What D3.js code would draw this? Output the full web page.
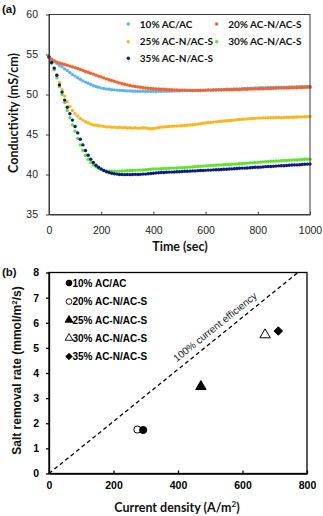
<!DOCTYPE html>
<html><head><meta charset="utf-8">
<script src="https://cdn.jsdelivr.net/npm/d3@7/dist/d3.min.js"></script>
<style>
html,body{margin:0;padding:0;background:#fff;}
svg{display:block;}
</style></head>
<body>
<svg id="chart" width="323" height="516"></svg>
<script>
// ---------- Panel (a) data ----------
const timeSec = d3.range(0, 1001, 10);
const seriesNames = ["10% AC/AC","20% AC-N/AC-S","25% AC-N/AC-S","30% AC-N/AC-S","35% AC-N/AC-S"];
const cond10 = [54.7,54.4,54.15,53.9,53.65,53.45,53.2,53.0,52.75,52.5,
52.3,52.1,51.9,51.7,51.55,51.4,51.25,51.1,51.0,50.9,
50.8,50.75,50.7,50.65,50.6,50.58,50.55,50.52,50.5,50.48,
50.45,50.45,50.42,50.42,50.4,50.4,50.4,50.38,50.4,50.38,
50.4,50.38,50.4,50.4,50.42,50.4,50.42,50.42,50.45,50.45,
50.45,50.48,50.48,50.5,50.5,50.5,50.52,50.52,50.55,50.55,
50.55,50.58,50.58,50.6,50.6,50.6,50.62,50.62,50.65,50.65,
50.65,50.68,50.7,50.7,50.72,50.75,50.78,50.8,50.8,50.82,
50.82,50.85,50.85,50.85,50.88,50.88,50.88,50.9,50.9,50.9,
50.92,50.92,50.95,50.95,50.95,50.98,50.98,51.0,51.0,51.0,51.02];
const cond20 = [54.7,54.4,54.2,54.05,53.95,53.85,53.75,53.65,53.55,53.45,
53.35,53.25,53.12,53.0,52.88,52.78,52.65,52.55,52.42,52.3,
52.2,52.08,51.95,51.85,51.75,51.65,51.55,51.45,51.35,51.28,
51.2,51.12,51.05,51.0,50.95,50.9,50.85,50.82,50.78,50.75,
50.72,50.7,50.68,50.65,50.65,50.62,50.6,50.6,50.58,50.58,
50.55,50.55,50.55,50.52,50.52,50.5,50.52,50.5,50.5,50.52,
50.52,50.55,50.52,50.55,50.55,50.58,50.55,50.58,50.6,50.6,
50.6,50.62,50.62,50.62,50.65,50.65,50.65,50.68,50.68,50.7,
50.7,50.72,50.72,50.75,50.75,50.75,50.78,50.78,50.8,50.8,
50.8,50.82,50.82,50.85,50.85,50.85,50.88,50.88,50.9,50.9,50.9];
const cond25 = [54.7,54.0,53.2,52.4,51.5,50.6,49.8,49.1,48.5,48.0,
47.6,47.3,47.0,46.8,46.6,46.45,46.3,46.2,46.15,46.1,
46.05,46.0,45.95,45.95,45.9,45.92,45.88,45.9,45.85,45.88,
45.82,45.85,45.8,45.85,45.78,45.8,45.85,45.82,45.75,45.72,
45.75,45.8,45.88,45.92,45.95,45.98,46.0,46.02,46.05,46.05,
46.08,46.1,46.12,46.15,46.18,46.22,46.25,46.3,46.35,46.4,
46.45,46.5,46.52,46.55,46.58,46.62,46.65,46.7,46.72,46.75,
46.78,46.8,46.85,46.88,46.9,46.92,46.95,46.98,47.0,47.02,
47.05,47.05,47.08,47.08,47.1,47.1,47.1,47.12,47.12,47.1,
47.12,47.15,47.12,47.15,47.15,47.18,47.2,47.2,47.22,47.22,47.25];
const cond30 = [54.7,53.9,53.1,52.1,51.0,50.0,49.0,48.0,47.1,46.2,
45.4,44.5,43.7,43.0,42.4,41.9,41.5,41.2,40.95,40.75,
40.6,40.5,40.45,40.42,40.4,40.4,40.42,40.42,40.45,40.45,
40.48,40.5,40.5,40.52,40.55,40.55,40.58,40.6,40.62,40.65,
40.68,40.7,40.7,40.72,40.75,40.75,40.78,40.8,40.8,40.82,
40.85,40.85,40.88,40.9,40.92,40.95,40.98,41.0,41.02,41.05,
41.08,41.1,41.12,41.12,41.15,41.18,41.2,41.22,41.25,41.25,
41.28,41.3,41.32,41.35,41.38,41.4,41.42,41.45,41.48,41.5,
41.52,41.55,41.58,41.6,41.62,41.65,41.65,41.68,41.7,41.72,
41.75,41.75,41.78,41.8,41.82,41.82,41.85,41.88,41.9,41.9,41.92];
const cond35 = [54.7,54.0,53.3,52.4,51.2,50.3,49.3,48.4,47.6,46.8,
46.0,45.2,44.4,43.7,43.0,42.4,41.9,41.5,41.15,40.9,
40.7,40.5,40.35,40.25,40.15,40.1,40.05,40.0,40.0,39.98,
40.0,39.98,40.0,40.02,40.0,40.02,40.05,40.05,40.1,40.12,
40.15,40.2,40.22,40.25,40.25,40.28,40.3,40.3,40.32,40.35,
40.35,40.38,40.4,40.4,40.42,40.45,40.45,40.48,40.5,40.5,
40.52,40.55,40.55,40.58,40.6,40.6,40.62,40.65,40.65,40.68,
40.7,40.72,40.75,40.78,40.8,40.8,40.82,40.85,40.88,40.9,
40.9,40.92,40.95,40.98,41.0,41.0,41.02,41.05,41.08,41.1,
41.1,41.12,41.15,41.18,41.2,41.2,41.22,41.25,41.28,41.3,41.32];
const seriesColors = ["#5ab4ee","#fb5f2b","#fdb519","#5fe32c","#0c1a82"];
const xTicksA = [0,200,400,600,800,1000];
const yTicksA = [35,40,45,50,55,60];

// ---------- Panel (b) data ----------
const currentDensity = [292, 274, 471, 670, 711];
const saltRemoval = [1.73, 1.75, 3.46, 5.52, 5.67];
const xTicksB = [0,200,400,600,800];
const yTicksB = [0,1,2,3,4,5,6,7,8];
const efficiencyLine = [[0,0],[772,8]];
const efficiencyLabel = "100% current efficiency";

const svg = d3.select("#chart");
const calibri = "Lato, 'Open Sans', sans-serif";
const arial = "'Liberation Sans', Arial, sans-serif";

// ================= Panel (a) =================
const xa = d3.scaleLinear().domain([0,1000]).range([49,310]);
const ya = d3.scaleLinear().domain([35,60]).range([214.5,14.5]);
const ga = svg.append("g");

const allSeries = [cond10, cond20, cond25, cond30, cond35];
allSeries.forEach((vals, si) => {
  ga.append("g").selectAll("circle")
    .data(vals.map((v,i)=>[timeSec[i], v]))
    .join("circle")
    .attr("cx", d=>xa(d[0])).attr("cy", d=>ya(d[1]))
    .attr("r", 1.7).attr("fill", seriesColors[si]);
});

ga.append("rect").attr("x", xa(0)).attr("y", ya(60))
  .attr("width", xa(1000)-xa(0)).attr("height", ya(35)-ya(60))
  .attr("fill","none").attr("stroke","#3a3a3a").attr("stroke-width",1);

const axA_x = d3.axisBottom(xa).tickValues(xTicksA).tickFormat(d3.format("d"))
  .tickSizeInner(-3).tickSizeOuter(0).tickPadding(12);
const gax = ga.append("g").attr("transform",`translate(0,${ya(35)})`).call(axA_x);
gax.select(".domain").attr("stroke","#3a3a3a");
gax.selectAll("line").attr("stroke","#3a3a3a");
gax.selectAll("text").attr("font-family",arial).attr("font-size","10.5px").attr("fill","#222");

const axA_y = d3.axisLeft(ya).tickValues(yTicksA).tickFormat(d3.format("d"))
  .tickSizeInner(3).tickSizeOuter(0).tickPadding(8);
const gay = ga.append("g").attr("transform",`translate(${xa(0)},0)`).call(axA_y);
gay.select(".domain").attr("stroke","#3a3a3a");
gay.selectAll("line").attr("stroke","#3a3a3a");
gay.selectAll("text").attr("font-family",arial).attr("font-size","10.5px").attr("fill","#222");

ga.append("text").attr("x",180).attr("y",251).attr("text-anchor","middle")
  .attr("font-family",calibri).attr("font-weight","bold").attr("font-size","12.5px").attr("fill","#111")
  .text("Time (sec)");
ga.append("text").attr("transform","translate(18,113) rotate(-90)").attr("text-anchor","middle")
  .attr("font-family",calibri).attr("font-weight","bold").attr("font-size","12.5px").attr("fill","#111")
  .text("Conductivity (mS/cm)");
ga.append("text").attr("x",2).attr("y",13).attr("font-family",arial).attr("font-weight","bold")
  .attr("font-size","11.5px").attr("fill","#111").text("(a)");

const legPosA = [[128.3,24],[216.7,24],[128.3,41.7],[216.7,41.7],[128.3,58.3]];
seriesNames.forEach((n,i)=>{
  const [lx,ly] = legPosA[i];
  ga.append("circle").attr("cx",lx).attr("cy",ly).attr("r",1.7).attr("fill",seriesColors[i]);
  ga.append("text").attr("x",lx+11.5).attr("y",ly+3.6).attr("font-family",calibri)
    .attr("font-weight","bold").attr("font-size","10px").attr("fill","#111").text(n);
});

// ================= Panel (b) =================
const xb = d3.scaleLinear().domain([0,800]).range([49,307]);
const yb = d3.scaleLinear().domain([0,8]).range([473.5,272.5]);
const gb = svg.append("g");

gb.append("rect").attr("x", xb(0)).attr("y", yb(8))
  .attr("width", xb(800)-xb(0)).attr("height", yb(0)-yb(8))
  .attr("fill","none").attr("stroke","#000").attr("stroke-width",1.3);

const axB_x = d3.axisBottom(xb).tickValues(xTicksB).tickFormat(d3.format("d"))
  .tickSizeInner(-3).tickSizeOuter(0).tickPadding(8);
const gbx = gb.append("g").attr("transform",`translate(0,${yb(0)})`).call(axB_x);
gbx.select(".domain").attr("stroke","#000").attr("stroke-width",1.3);
gbx.selectAll("line").attr("stroke","#000").attr("stroke-width",1.3);
gbx.selectAll("text").attr("font-family",arial).attr("font-weight","bold").attr("font-size","10.5px").attr("fill","#000");

const axB_y = d3.axisLeft(yb).tickValues(yTicksB).tickSizeInner(3).tickSizeOuter(0).tickPadding(7);
const gby = gb.append("g").attr("transform",`translate(${xb(0)},0)`).call(axB_y);
gby.select(".domain").attr("stroke","#000").attr("stroke-width",1.3);
gby.selectAll("line").attr("stroke","#000").attr("stroke-width",1.3);
gby.selectAll("text").attr("font-family",arial).attr("font-weight","bold").attr("font-size","10.5px").attr("fill","#000");

gb.append("path").attr("d", d3.line().x(d=>xb(d[0])).y(d=>yb(d[1]))(efficiencyLine))
  .attr("stroke","#000").attr("stroke-width",1.3).attr("stroke-dasharray","4,3").attr("fill","none");
const ang = Math.atan2(yb(efficiencyLine[0][1])-yb(efficiencyLine[1][1]), xb(efficiencyLine[1][0])-xb(efficiencyLine[0][0]))*180/Math.PI;
gb.append("text").attr("transform",`translate(215,327) rotate(${-ang})`).attr("text-anchor","middle")
  .attr("dominant-baseline","central")
  .attr("font-family",arial).attr("font-size","10px").attr("fill","#222").text(efficiencyLabel);

const symTypes = [d3.symbolCircle, d3.symbolCircle, d3.symbolTriangle, d3.symbolTriangle, d3.symbolDiamond2];
const symFilled = [true, false, true, false, true];
const drawOrder = [1,0,2,3,4];
drawOrder.forEach(i=>{
  gb.append("path").attr("d", d3.symbol().type(symTypes[i]).size(i<2?40:46)())
    .attr("transform",`translate(${xb(currentDensity[i])},${yb(saltRemoval[i])})`)
    .attr("fill", symFilled[i] ? "#000" : "#fff").attr("stroke","#000").attr("stroke-width",1);
});

const legYB = [283,301.5,320,338,356.5];
seriesNames.forEach((n,i)=>{
  gb.append("path").attr("d", d3.symbol().type(symTypes[i]).size(26)())
    .attr("transform",`translate(69,${legYB[i]})`)
    .attr("fill", symFilled[i] ? "#000" : "#fff").attr("stroke","#000").attr("stroke-width",0.9);
  gb.append("text").attr("x",72.5).attr("y",legYB[i]+3.6).attr("font-family",arial)
    .attr("font-weight","bold").attr("font-size","10px").attr("fill","#000").text(n);
});

gb.append("text").attr("x",177).attr("y",512).attr("text-anchor","middle")
  .attr("font-family",calibri).attr("font-weight","bold").attr("font-size","12.5px").attr("fill","#111")
  .html("Current density (A/m<tspan baseline-shift='super' font-size='8px'>2</tspan>)");
gb.append("text").attr("transform","translate(21,370.5) rotate(-90)").attr("text-anchor","middle")
  .attr("font-family",arial).attr("font-weight","bold").attr("font-size","12px").attr("fill","#111")
  .html("Salt removal rate (mmol/m<tspan baseline-shift='super' font-size='8px'>2</tspan>/s)");
gb.append("text").attr("x",2).attr("y",275.5).attr("font-family",arial).attr("font-weight","bold")
  .attr("font-size","11.5px").attr("fill","#111").text("(b)");
</script>
</body></html>
